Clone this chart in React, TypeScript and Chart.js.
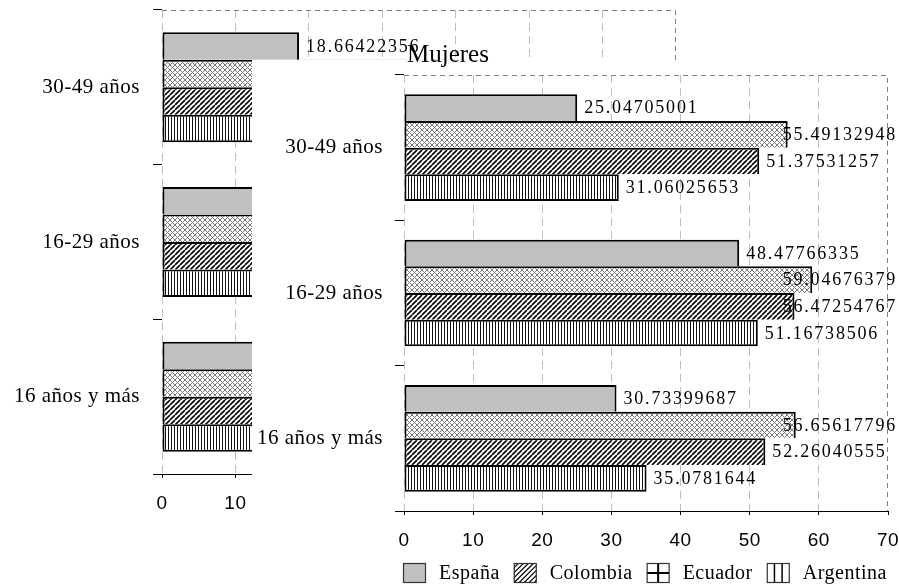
import React, { useEffect, useRef } from 'react';
import { Chart, registerables } from 'chart.js';

Chart.register(...registerables);

// ---------- data ----------
const categories = ['30-49 años', '16-29 años', '16 años y más'];
const seriesNames = ['España', 'Colombia', 'Ecuador', 'Argentina'];
const frontTitle = 'Mujeres';

// Front chart (Mujeres)
const mujeresEspana = [25.04705001, 48.47766335, 30.73399687];
const mujeresColombia = [55.49132948, 59.04676379, 56.65617796];
const mujeresEcuador = [51.37531257, 56.47254767, 52.26040555];
const mujeresArgentina = [31.06025653, 51.16738506, 35.0781644];

// Back chart (mostly hidden behind the front one; only España 30-49 is readable)
const backEspana = [18.66422356, 34.2, 22.5];
const backColombia = [41.3, 46.8, 43.1];
const backEcuador = [37.6, 43.9, 39.4];
const backArgentina = [24.8, 40.7, 28.2];

const xMin = 0;
const xMax = 70;
const xStep = 10;

// ---------- patterns ----------
function tile(w: number, h: number, draw: (g: CanvasRenderingContext2D) => void) {
  const c = document.createElement('canvas');
  c.width = w;
  c.height = h;
  const g = c.getContext('2d')!;
  g.fillStyle = '#fff';
  g.fillRect(0, 0, w, h);
  draw(g);
  return c;
}

function makeFills(ctx: CanvasRenderingContext2D) {
  const checker = tile(5, 5, (g) => {
    g.fillStyle = '#7a7a7a';
    for (let i = 0; i < 5; i++) {
      g.fillRect(i, i, 1, 1);
      g.fillRect(4 - i, i, 1, 1);
    }
  });
  const diag = tile(5, 5, (g) => {
    g.strokeStyle = '#000';
    g.lineWidth = 1.6;
    g.beginPath();
    for (const o of [-5, 0, 5]) {
      g.moveTo(o, 5);
      g.lineTo(o + 5, 0);
    }
    g.stroke();
  });
  const vert = tile(3, 4, (g) => {
    g.fillStyle = '#111';
    g.fillRect(0, 0, 1, 4);
  });
  return [
    '#c0c0c0',
    ctx.createPattern(checker, 'repeat')!,
    ctx.createPattern(diag, 'repeat')!,
    ctx.createPattern(vert, 'repeat')!,
  ];
}

// ---------- plugins ----------
const spacingPlugin = {
  id: 'spacing',
  beforeLayout(chart: any) {
    chart.ctx.letterSpacing = '0.5px';
  },
  beforeDraw(chart: any) {
    chart.ctx.letterSpacing = '0.5px';
  },
};

const whiteBox = {
  id: 'whiteBox',
  beforeDraw(chart: any, _a: any, opts: any) {
    if (opts.top == null) return;
    const ctx = chart.ctx;
    ctx.save();
    ctx.fillStyle = '#fff';
    ctx.fillRect(0, opts.top, chart.width, chart.height - opts.top);
    ctx.restore();
  },
};

const plotFrame = {
  id: 'plotFrame',
  beforeDatasetsDraw(chart: any) {
    const { ctx, chartArea: a } = chart;
    ctx.save();
    ctx.strokeStyle = '#808080';
    ctx.lineWidth = 1;
    ctx.setLineDash([5, 4]);
    ctx.beginPath();
    ctx.moveTo(a.left, a.top + 0.5);
    ctx.lineTo(a.right - 0.5, a.top + 0.5);
    ctx.lineTo(a.right - 0.5, a.bottom);
    ctx.stroke();
    ctx.restore();
  },
};

const valueLabels = {
  id: 'valueLabels',
  afterDatasetsDraw(chart: any, _a: any, opts: any) {
    const ctx = chart.ctx;
    ctx.save();
    ctx.font = `${opts.size}px "Liberation Serif"`;
    ctx.letterSpacing = `${opts.spacing}px`;
    ctx.fillStyle = '#000';
    ctx.textBaseline = 'middle';
    ctx.textAlign = 'left';
    chart.data.datasets.forEach((ds: any, di: number) => {
      const meta = chart.getDatasetMeta(di);
      meta.data.forEach((bar: any, j: number) => {
        const text = String(ds.data[j]);
        const w = ctx.measureText(text).width;
        let x = bar.x + opts.offset;
        if (x + w > opts.maxRight) x = opts.maxRight - w;
        ctx.fillText(text, x, bar.y + 1);
      });
    });
    ctx.restore();
  },
};

const titlePlugin = {
  id: 'manualTitle',
  afterDraw(chart: any, _a: any, opts: any) {
    if (!opts.text) return;
    const ctx = chart.ctx;
    ctx.save();
    ctx.letterSpacing = '0px';
    ctx.font = `${opts.size}px "Liberation Serif"`;
    ctx.fillStyle = '#000';
    ctx.textBaseline = 'alphabetic';
    ctx.textAlign = 'left';
    ctx.fillText(opts.text, chart.chartArea.left + opts.dx, opts.baseline);
    ctx.restore();
  },
};

function drawLegendIcon(ctx: CanvasRenderingContext2D, i: number, x: number, y: number, w: number, h: number) {
  ctx.save();
  ctx.fillStyle = i === 0 ? '#c0c0c0' : '#fff';
  ctx.fillRect(x, y, w, h);
  ctx.beginPath();
  ctx.rect(x, y, w, h);
  ctx.clip();
  ctx.strokeStyle = '#000';
  ctx.beginPath();
  if (i === 1) {
    ctx.lineWidth = 1.2;
    for (let k = -h; k < w + h; k += 5) {
      ctx.moveTo(x + k, y + h);
      ctx.lineTo(x + k + h, y);
    }
  } else if (i === 2) {
    ctx.lineWidth = 2;
    ctx.moveTo(x + w / 2, y);
    ctx.lineTo(x + w / 2, y + h);
    ctx.moveTo(x, y + h / 2);
    ctx.lineTo(x + w, y + h / 2);
  } else if (i === 3) {
    ctx.lineWidth = 1.5;
    ctx.moveTo(x + w / 3, y);
    ctx.lineTo(x + w / 3, y + h);
    ctx.moveTo(x + (2 * w) / 3, y);
    ctx.lineTo(x + (2 * w) / 3, y + h);
  }
  ctx.stroke();
  ctx.restore();
  ctx.save();
  ctx.strokeStyle = '#333';
  ctx.lineWidth = 1.2;
  ctx.strokeRect(x + 0.5, y + 0.5, w - 1, h - 1);
  ctx.restore();
}

const manualLegend = {
  id: 'manualLegend',
  afterDraw(chart: any, _a: any, opts: any) {
    if (!opts.show) return;
    const ctx = chart.ctx;
    ctx.save();
    ctx.font = `${opts.size}px "Liberation Serif"`;
    ctx.letterSpacing = '0.5px';
    ctx.fillStyle = '#000';
    ctx.textBaseline = 'middle';
    ctx.textAlign = 'left';
    let x = opts.x;
    const y = opts.y;
    chart.data.datasets.forEach((ds: any, i: number) => {
      drawLegendIcon(ctx, i, x, y - opts.boxH / 2, opts.boxW, opts.boxH);
      x += opts.boxW + opts.textGap;
      ctx.fillStyle = '#000';
      ctx.fillText(ds.label, x, y + 1);
      x += ctx.measureText(ds.label).width + opts.itemGap;
    });
    ctx.restore();
  },
};

// ---------- config ----------
function buildConfig(
  ctx: CanvasRenderingContext2D,
  values: number[][],
  o: {
    catPct: number;
    yWidth: number;
    yPad: number;
    padding: { left: number; right: number; top: number; bottom: number };
    whiteTop?: number;
    title?: string;
    legend?: boolean;
  }
): any {
  const fills = makeFills(ctx);
  return {
    type: 'bar',
    data: {
      labels: categories,
      datasets: seriesNames.map((name, i) => ({
        label: name,
        data: values[i],
        backgroundColor: fills[i],
        borderColor: '#000',
        borderWidth: i === 3 ? 2 : { top: 2, left: 2, right: 2, bottom: 0 },
        borderSkipped: false,
        categoryPercentage: o.catPct,
        barPercentage: 1,
      })),
    },
    options: {
      indexAxis: 'y',
      responsive: false,
      maintainAspectRatio: false,
      animation: false,
      events: [],
      layout: { padding: o.padding },
      scales: {
        x: {
          type: 'linear',
          min: xMin,
          max: xMax,
          ticks: {
            stepSize: xStep,
            font: { family: "'Liberation Sans', Arial, sans-serif", size: 19 },
            color: '#000',
            padding: 14,
          },
          grid: {
            color: (c: any) => (c.tick && c.tick.value === xMax ? 'rgba(0,0,0,0)' : '#c0c0c0'),
            lineWidth: 1,
            drawTicks: true,
            tickLength: 4,
            tickColor: '#000',
          },
          border: { display: true, color: '#000', width: 1, dash: [8, 5] },
          afterFit: (s: any) => {
            s.height = 40;
            s.paddingLeft = 0;
            s.paddingRight = 0;
          },
        },
        y: {
          type: 'category',
          offset: true,
          ticks: {
            font: { family: "'Liberation Serif', serif", size: 21 },
            color: '#000',
            padding: o.yPad,
          },
          grid: {
            offset: true,
            drawOnChartArea: false,
            drawTicks: true,
            tickLength: 9,
            color: '#000',
            tickColor: '#000',
            lineWidth: 1,
          },
          border: { display: false },
          afterFit: (s: any) => {
            s.width = o.yWidth;
            s.paddingTop = 0;
            s.paddingBottom = 0;
          },
        },
      },
      plugins: {
        legend: { display: false },
        tooltip: { enabled: false },
        title: { display: false },
        whiteBox: { top: o.whiteTop },
        valueLabels: { size: 18, spacing: 1.8, offset: 7, maxRight: 0 },
        manualTitle: { text: o.title, size: 25, dx: 3, baseline: 32 },
        manualLegend: {
          show: !!o.legend,
          size: 20,
          x: 151,
          y: 543,
          boxW: 23,
          boxH: 20,
          textGap: 13,
          itemGap: 14,
        },
      },
    },
    plugins: [spacingPlugin, whiteBox, plotFrame, valueLabels, titlePlugin, manualLegend],
  };
}

export default function App() {
  const backRef = useRef<HTMLCanvasElement>(null);
  const frontRef = useRef<HTMLCanvasElement>(null);

  useEffect(() => {
    const bctx = backRef.current!.getContext('2d')!;
    const fctx = frontRef.current!.getContext('2d')!;

    const backCfg = buildConfig(bctx, [backEspana, backColombia, backEcuador, backArgentina], {
      catPct: 0.711,
      yWidth: 162,
      yPad: 13,
      padding: { left: 0, right: 223, top: 10, bottom: 74 },
    });
    backCfg.options.plugins.valueLabels.maxRight = 897;

    const frontCfg = buildConfig(fctx, [mujeresEspana, mujeresColombia, mujeresEcuador, mujeresArgentina], {
      catPct: 0.734,
      yWidth: 148,
      yPad: 12,
      padding: { left: 4, right: 11, top: 45, bottom: 37 },
      whiteTop: 30,
      title: frontTitle,
      legend: true,
    });
    frontCfg.options.plugins.valueLabels.maxRight = 645;

    const back = new Chart(backRef.current!, backCfg);
    const front = new Chart(frontRef.current!, frontCfg);
    return () => {
      back.destroy();
      front.destroy();
    };
  }, []);

  return (
    <div
      style={{
        position: 'absolute',
        left: 0,
        top: 0,
        width: 899,
        height: 588,
        background: '#fff',
        overflow: 'hidden',
      }}
    >
      <canvas
        ref={backRef}
        width={899}
        height={588}
        style={{ position: 'absolute', left: 0, top: 0, width: 899, height: 588 }}
      />
      <canvas
        ref={frontRef}
        width={647}
        height={558}
        style={{ position: 'absolute', left: 252, top: 30, width: 647, height: 558 }}
      />
    </div>
  );
}
